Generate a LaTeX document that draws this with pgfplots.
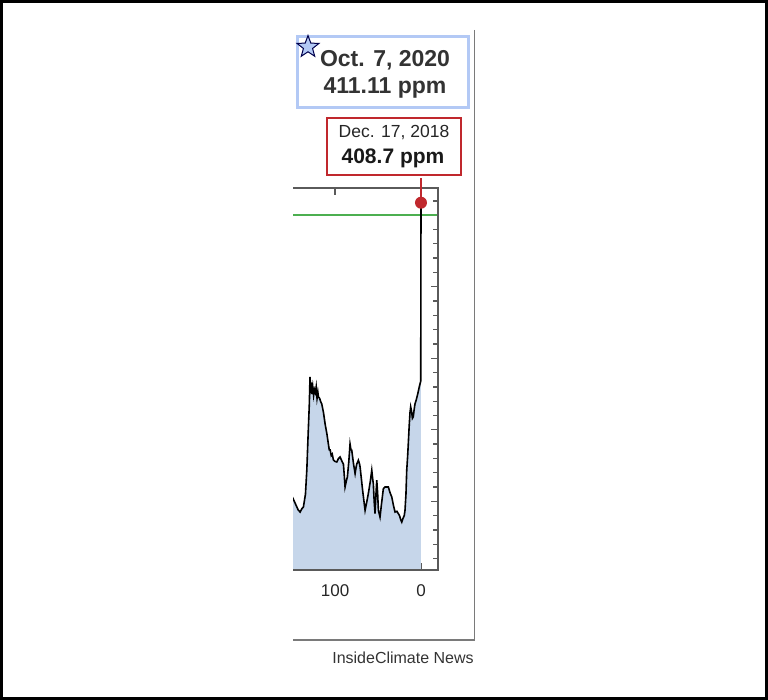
\documentclass[border=0pt]{standalone}
\usepackage{fontspec}
\setmainfont{Liberation Sans}
\usepackage{pgfplots}
\pgfplotsset{compat=1.18}
\usetikzlibrary{shapes.geometric}

\definecolor{areablue}{HTML}{C6D6EA}
\definecolor{linegreen}{HTML}{4CAF50}
\definecolor{markred}{HTML}{C0282D}
\definecolor{boxblue}{HTML}{B3C9F5}
\definecolor{axisgray}{HTML}{5A5A5A}
\definecolor{framegray}{HTML}{7A7A7A}

% ice core + Mauna Loa CO2, thousand years before present vs ppm
\pgfplotstableread{
kyr ppm
160 190
156 194
152 199
149 202
146 198
143 194
140.7 192.5
138.5 195
136.9 196
134.5 205
132.9 222
131.5 245
130 268
129.2 287
128.5 279
127.5 283
127 275
126 280
125 274
124 278
123 276
122 280
121 272
120 276
119.4 273
118 272
117 270
115.5 268
113.5 262
111.6 254
109.5 247
107.8 240
106.8 236
105.8 236
104.5 232
103.3 233
102 229
100.5 228
98 227.5
96 230
94.2 231
92 228
90.3 226
89.3 218
88.4 210
87 214
85.7 217
84 228
82.6 240
81.5 236
80.6 235.7
78.5 226
76.7 219.4
75.5 224
74.8 226
72.9 228.7
71.5 226
70.9 224
68 208
65.1 193.7
63 200
61.3 205.4
59 214
57.3 221.7
56.3 216
55.5 212.4
54.5 200
53.5 191.4
52.5 204
51.5 214.7
50.5 206
49.6 193.7
48.5 191
47.7 189
46 198
43.8 208.9
42 210
40 210
38 210
36 206
34 203
32 197
30.2 192.5
28 193
26.4 191.4
25 190
23.5 187
22.4 185.5
21 188
19.5 190
18.6 193.7
17.5 205
16.6 221.7
15.5 232
14.8 240
13.8 252
12.8 262
12 266
11 263
10 258
9 259
8 264
7 268
5.5 271
3.8 275
2 280
0.3 284
0 408.7
}\co

\begin{document}
\begin{tikzpicture}[x=1pt,y=1pt]
\draw[line width=3pt] (1.5,1.5) rectangle (766.5,698.5);
\draw[framegray, line width=1.2pt] (474.5,670) -- (474.5,60) -- (293,60);

\begin{axis}[
  at={(293pt,130pt)}, anchor=south west,
  scale only axis, width=145pt, height=382pt,
  x dir=reverse, xmin=-19.8, xmax=149, ymin=152, ymax=419,
  axis line style={draw=none},
  clip mode=individual,
  xtick={0,100}, ytick={200,250,...,400}, minor ytick={160,170,...,410},
  yticklabels={}, ytick pos=right,
  tick align=inside, major tick length=7pt, minor tick length=5pt,
  every tick/.style={axisgray, line width=1.3pt},
  xticklabel style={font=\fontsize{17}{17}\selectfont, text=black!85, yshift=-11pt},
  /pgf/number format/assume math mode=true]
\addplot[fill=areablue, draw=none] table[x=kyr, y=ppm] {\co} \closedcycle;
\addplot[draw=linegreen, line width=1.5pt] coordinates {(149,400) (-19.8,400)};
\addplot[black, line width=1.6pt] table[x=kyr, y=ppm] {\co};
\draw[axisgray, line width=2pt] (rel axis cs:0,1) -- (rel axis cs:1,1) -- (rel axis cs:1,0) -- (rel axis cs:0,0);
\draw[markred, line width=2pt] (axis cs:0,408.7) -- ([yshift=25pt]axis cs:0,408.7);
\fill[markred] (axis cs:0,408.7) circle (6pt);
\end{axis}

\draw[markred, line width=2pt, fill=white] (327,525) rectangle (461,582);
\node[text=black!85] at (394,567) {\fontsize{17.5}{18}\selectfont Dec. 17, 2018};
\node[text=black!90] at (393,542) {\fontsize{21}{22}\selectfont\bfseries 408.7 ppm};

\draw[boxblue, line width=3pt, fill=white] (297,592) rectangle (468,663);
\node[text=black!80] at (385,640) {\fontsize{23}{25}\selectfont\bfseries Oct. 7, 2020};
\node[text=black!80] at (385,612) {\fontsize{23}{25}\selectfont\bfseries 411.11 ppm};
\node[star, star points=5, star point ratio=2.4, minimum size=23pt, inner sep=0pt,
      fill=boxblue, draw=black!70!blue, line width=1pt] at (308,653) {};

\node[text=black!80] at (403,42) {\fontsize{16}{16}\selectfont InsideClimate News};
\end{tikzpicture}
\end{document}
